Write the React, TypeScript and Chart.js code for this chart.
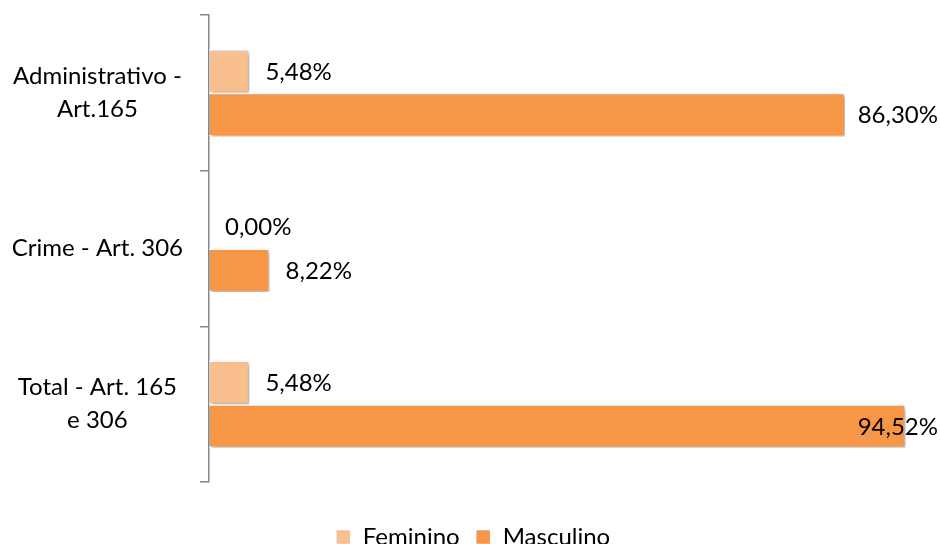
import React, { useEffect, useRef } from "react";
import { Chart, registerables } from "chart.js";

Chart.register(...registerables);

const categories: (string | string[])[] = [
  ["Administrativo -", "Art.165"],
  "Crime - Art. 306",
  ["Total - Art. 165", "e 306"],
];
const seriesNames = ["Feminino", "Masculino"];
const feminino = [5.48, 0.0, 5.48];
const masculino = [86.3, 8.22, 94.52];
const seriesColors = ["#F9BF8F", "#F79646"];

const FONT = "Lato, 'Open Sans', sans-serif";

const fmt = (v: number) => v.toFixed(2).replace(".", ",") + "%";

const shadowPlugin = {
  id: "barShadow",
  beforeDatasetsDraw(chart: any) {
    const ctx = chart.ctx;
    ctx.save();
    ctx.shadowColor = "rgba(0,0,0,0.35)";
    ctx.shadowBlur = 4;
    ctx.shadowOffsetX = 2;
    ctx.shadowOffsetY = 2;
  },
  afterDatasetsDraw(chart: any) {
    chart.ctx.restore();
  },
};

const valueLabelPlugin = {
  id: "valueLabels",
  afterDatasetsDraw(chart: any, _args: any, opts: any) {
    const ctx = chart.ctx;
    ctx.save();
    ctx.font = `24px ${FONT}`;
    ctx.fillStyle = "#000";
    ctx.textBaseline = "middle";
    ctx.textAlign = "left";
    const visibleRight = opts.visibleRight ?? chart.width;
    chart.data.datasets.forEach((ds: any, i: number) => {
      const meta = chart.getDatasetMeta(i);
      meta.data.forEach((bar: any, j: number) => {
        const txt = fmt(ds.data[j]);
        const w = ctx.measureText(txt).width;
        let x = bar.x + 16;
        if (x + w > visibleRight) x = visibleRight - w - 2;
        ctx.fillText(txt, x, bar.y + 1);
      });
    });
    ctx.restore();
  },
};

export default function App() {
  const ref = useRef<HTMLCanvasElement | null>(null);

  useEffect(() => {
    if (!ref.current) return;
    const chart = new Chart(ref.current, {
      type: "bar",
      data: {
        labels: categories,
        datasets: [
          {
            label: seriesNames[0],
            data: feminino,
            backgroundColor: seriesColors[0],
            borderColor: "#FFFFFF",
            borderWidth: 1.5,
            categoryPercentage: 0.56,
            barPercentage: 1,
          },
          {
            label: seriesNames[1],
            data: masculino,
            backgroundColor: seriesColors[1],
            borderColor: "#FFFFFF",
            borderWidth: 1.5,
            categoryPercentage: 0.56,
            barPercentage: 1,
          },
        ],
      },
      options: {
        indexAxis: "y",
        animation: false,
        responsive: true,
        maintainAspectRatio: false,
        layout: { padding: { left: 0, top: 15, right: 6, bottom: 0 } },
        scales: {
          x: { display: false, min: 0, max: 100 },
          y: {
            grid: {
              display: true,
              drawOnChartArea: false,
              drawTicks: true,
              tickLength: 9,
              color: "#868686",
              lineWidth: 1.5,
              offset: true,
            },
            border: { display: true, color: "#868686", width: 1.5 },
            ticks: {
              font: { family: FONT, size: 24, lineHeight: 1.38 },
              color: "#000",
              crossAlign: "center",
              padding: 17,
            },
            afterFit(scale: any) {
              scale.width = 209;
              scale.paddingTop = 0;
              scale.paddingBottom = 100;
            },
          },
        },
        plugins: {
          legend: {
            position: "bottom",
            title: {
              display: true,
              text: " ",
              font: { family: FONT, size: 10, lineHeight: 1.2 },
              padding: { top: 15, bottom: 0 },
            },
            labels: {
              font: { family: FONT, size: 24 },
              color: "#000",
              boxWidth: 15,
              boxHeight: 15,
              padding: 16,
            },
          },
          tooltip: { enabled: false },
          valueLabels: { visibleRight: 940 },
        } as any,
      },
      plugins: [shadowPlugin, valueLabelPlugin],
    } as any);
    return () => chart.destroy();
  }, []);

  return (
    <div
      style={{
        position: "fixed",
        left: 0,
        top: 0,
        width: 940,
        height: 544,
        overflow: "hidden",
        background: "#fff",
      }}
    >
      <div style={{ position: "relative", width: 952, height: 582 }}>
        <canvas ref={ref} />
      </div>
    </div>
  );
}
